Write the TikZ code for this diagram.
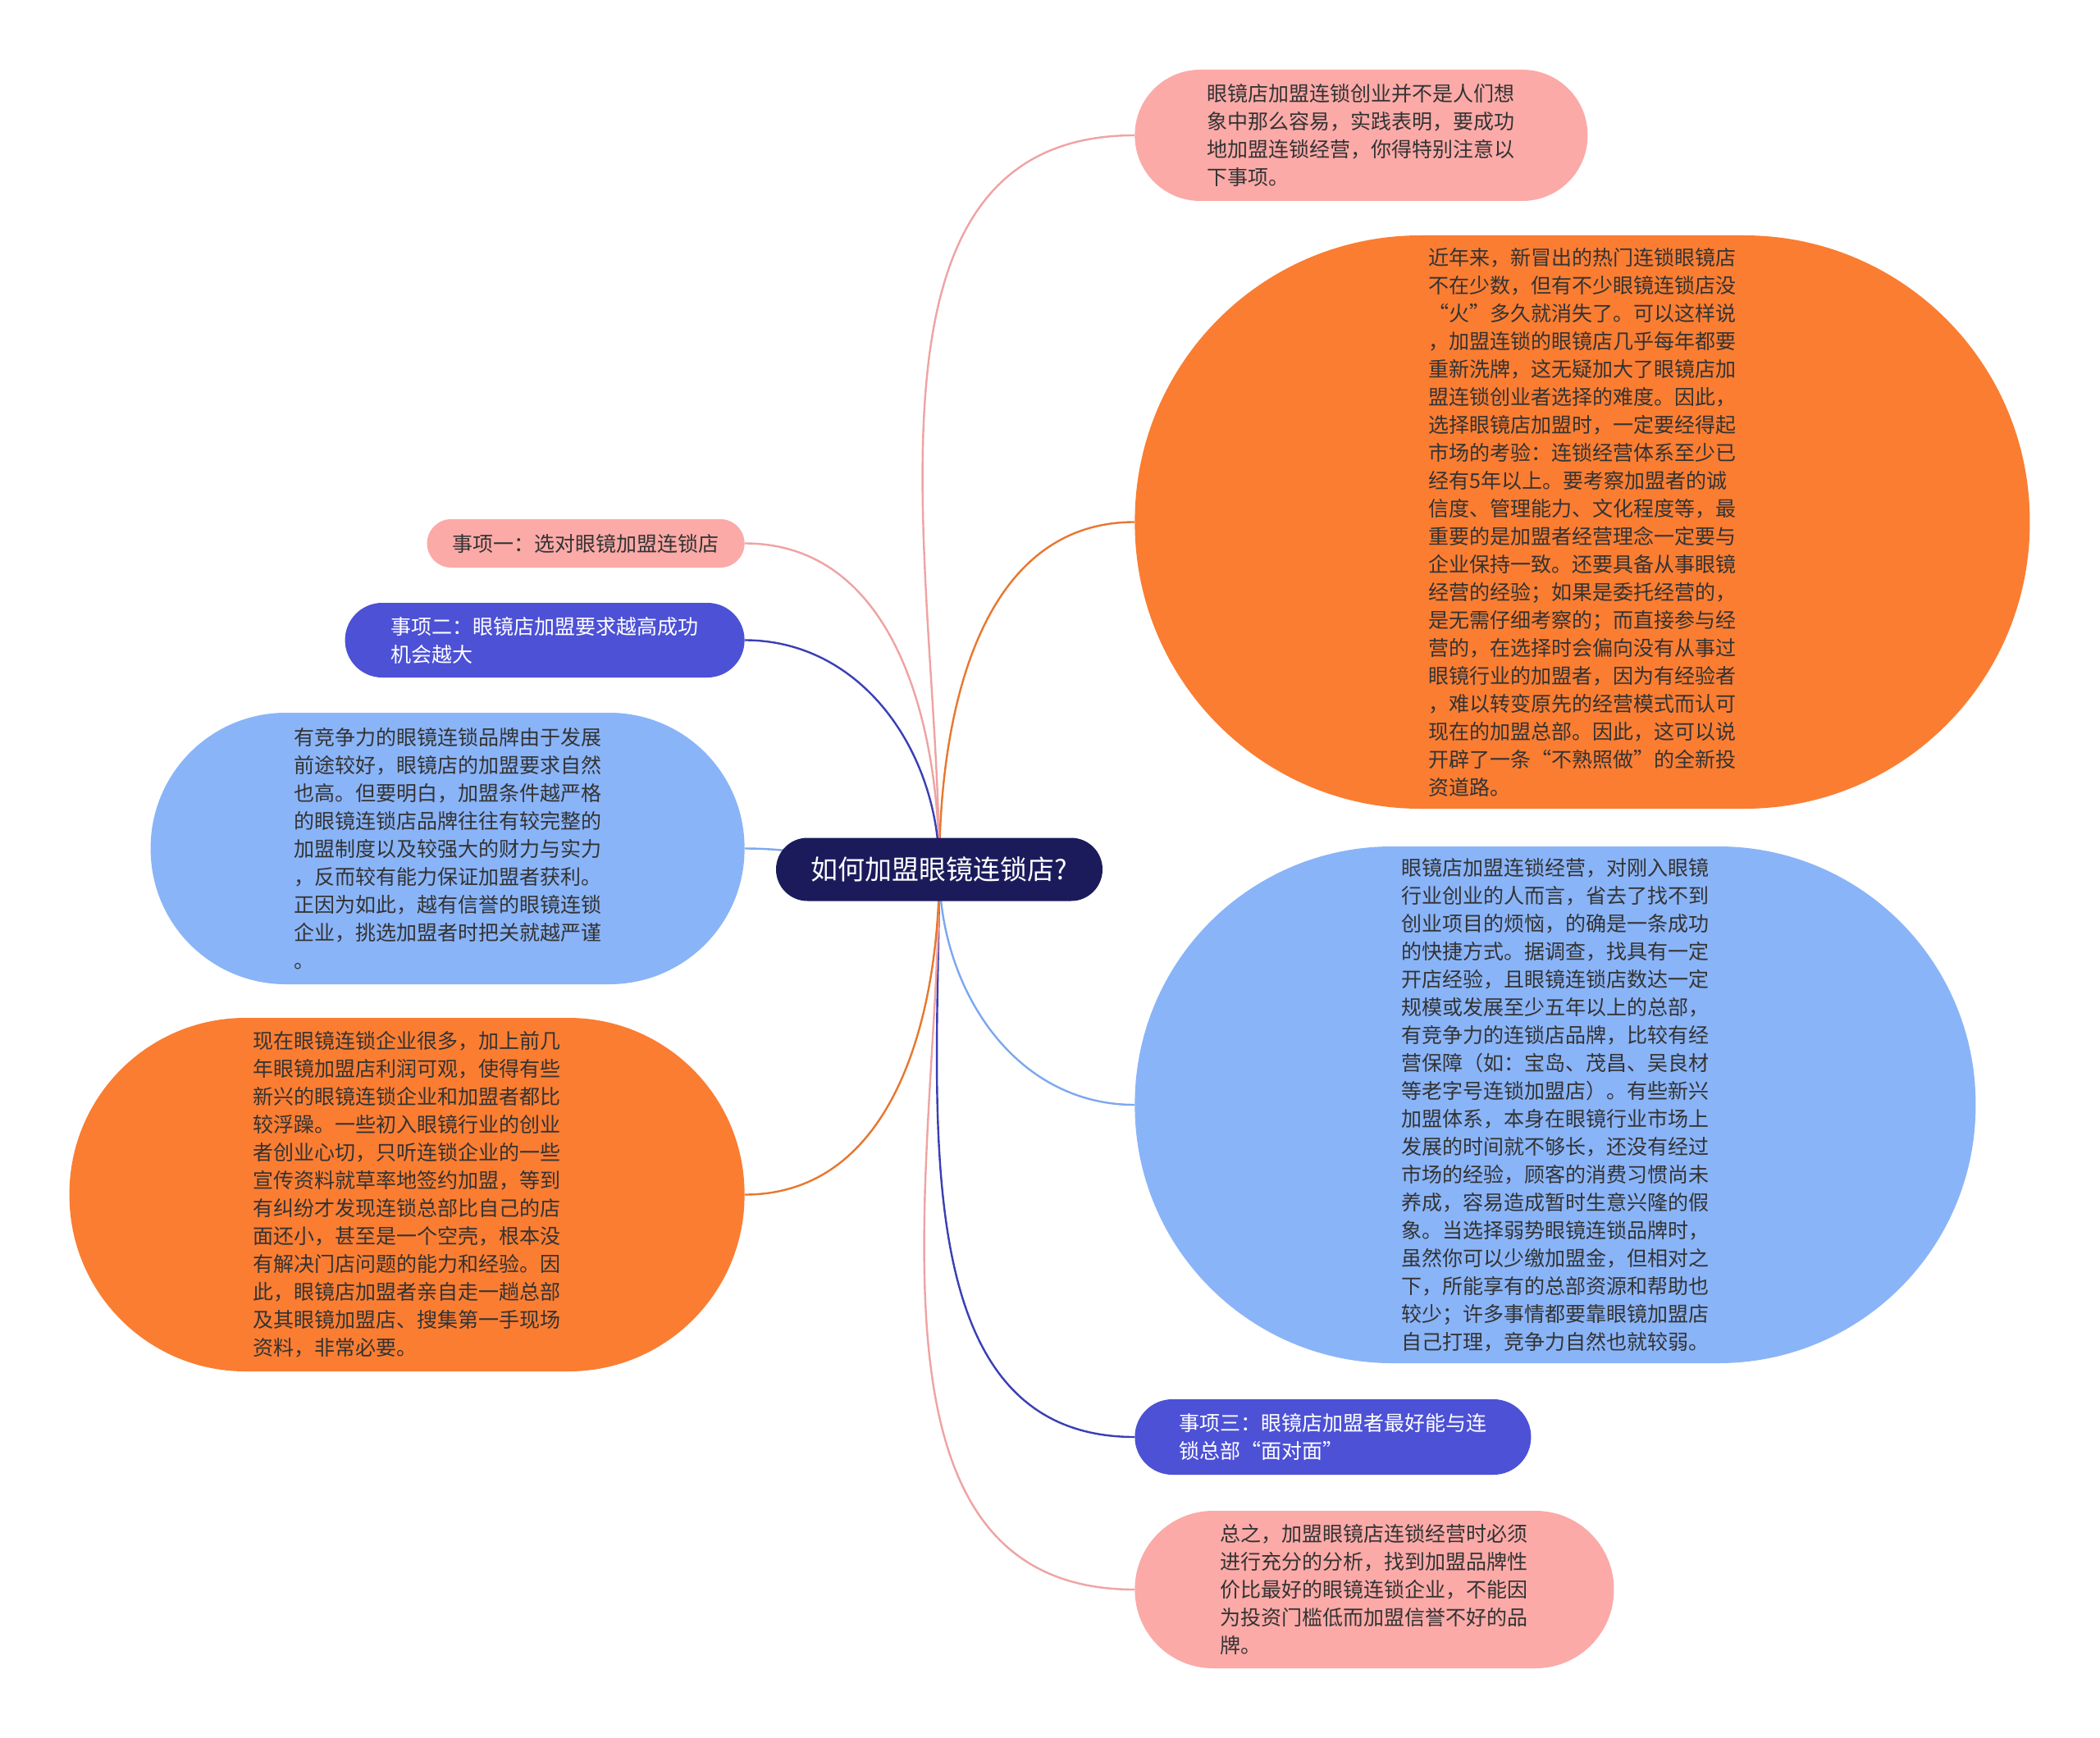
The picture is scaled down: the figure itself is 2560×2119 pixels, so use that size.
\documentclass[tikz,border=0pt]{standalone}
\usepackage{fontspec}
\newfontfamily\cjk{Noto Sans CJK SC}
\usetikzlibrary{backgrounds}
\definecolor{navy}{HTML}{1B1B5C}
\definecolor{pinkbox}{HTML}{FBAAA8}
\definecolor{orangebox}{HTML}{FA7D32}
\definecolor{bluebox}{HTML}{8AB4F8}
\definecolor{indigobox}{HTML}{4C51D6}
\definecolor{pinkln}{HTML}{EFA3A3}
\definecolor{orangeln}{HTML}{E8772F}
\definecolor{blueln}{HTML}{7DA8EE}
\definecolor{indigoln}{HTML}{3A3FB5}
\begin{document}
\begin{tikzpicture}[x=0.5pt, y=-0.5pt,
    every node/.style={font=\cjk\fontsize{12.5}{17}\selectfont, text=black!80, align=left, inner sep=0pt},
    pill/.style 2 args={minimum width=#1*0.5pt, minimum height=#2*0.5pt, rounded corners=#2*0.249pt},
    link/.style={line width=1.2pt}]
  \useasboundingbox (0,0) rectangle (2560,2119);

  % 中心主题
  \node[pill={398}{77}, fill=navy, text=white, font=\cjk\fontsize{16.5}{20}\selectfont] (c) at (1145,1060) {如何加盟眼镜连锁店?};

  % 右侧
  \node[pill={552}{160}, fill=pinkbox, anchor=west] (pA) at (1383,165) {眼镜店加盟连锁创业并不是人们想\\象中那么容易，实践表明，要成功\\地加盟连锁经营，你得特别注意以\\下事项。};
  \node[pill={1091}{699}, fill=orangebox, anchor=west] (oR) at (1383,636.5) {近年来，新冒出的热门连锁眼镜店\\不在少数，但有不少眼镜连锁店没\\“火”多久就消失了。可以这样说\\，加盟连锁的眼镜店几乎每年都要\\重新洗牌，这无疑加大了眼镜店加\\盟连锁创业者选择的难度。因此，\\选择眼镜店加盟时，一定要经得起\\市场的考验：连锁经营体系至少已\\经有5年以上。要考察加盟者的诚\\信度、管理能力、文化程度等，最\\重要的是加盟者经营理念一定要与\\企业保持一致。还要具备从事眼镜\\经营的经验；如果是委托经营的，\\是无需仔细考察的；而直接参与经\\营的，在选择时会偏向没有从事过\\眼镜行业的加盟者，因为有经验者\\，难以转变原先的经营模式而认可\\现在的加盟总部。因此，这可以说\\开辟了一条“不熟照做”的全新投\\资道路。};
  \node[pill={1025}{630}, fill=bluebox, anchor=west] (bR) at (1383,1347) {眼镜店加盟连锁经营，对刚入眼镜\\行业创业的人而言，省去了找不到\\创业项目的烦恼，的确是一条成功\\的快捷方式。据调查，找具有一定\\开店经验，且眼镜连锁店数达一定\\规模或发展至少五年以上的总部，\\有竞争力的连锁店品牌，比较有经\\营保障（如：宝岛、茂昌、吴良材\\等老字号连锁加盟店）。有些新兴\\加盟体系，本身在眼镜行业市场上\\发展的时间就不够长，还没有经过\\市场的经验，顾客的消费习惯尚未\\养成，容易造成暂时生意兴隆的假\\象。当选择弱势眼镜连锁品牌时，\\虽然你可以少缴加盟金，但相对之\\下，所能享有的总部资源和帮助也\\较少；许多事情都要靠眼镜加盟店\\自己打理，竞争力自然也就较弱。};
  \node[pill={483}{92}, fill=indigobox, text=white, anchor=west] (iR) at (1383,1752) {事项三：眼镜店加盟者最好能与连\\锁总部“面对面”};
  \node[pill={584}{192}, fill=pinkbox, anchor=west] (pB) at (1383,1938) {总之，加盟眼镜店连锁经营时必须\\进行充分的分析，找到加盟品牌性\\价比最好的眼镜连锁企业，不能因\\为投资门槛低而加盟信誉不好的品\\牌。};

  % 左侧
  \node[pill={387}{59}, fill=pinkbox, anchor=east] (pL) at (908,662.5) {事项一：选对眼镜加盟连锁店};
  \node[pill={487}{91}, fill=indigobox, text=white, anchor=east] (iL) at (908,780.5) {事项二：眼镜店加盟要求越高成功\\机会越大};
  \node[pill={724}{331}, fill=bluebox, anchor=east] (bL) at (908,1034.5) {有竞争力的眼镜连锁品牌由于发展\\前途较好，眼镜店的加盟要求自然\\也高。但要明白，加盟条件越严格\\的眼镜连锁店品牌往往有较完整的\\加盟制度以及较强大的财力与实力\\，反而较有能力保证加盟者获利。\\正因为如此，越有信誉的眼镜连锁\\企业，挑选加盟者时把关就越严谨\\。};
  \node[pill={823}{431}, fill=orangebox, anchor=east] (oL) at (908,1456.5) {现在眼镜连锁企业很多，加上前几\\年眼镜加盟店利润可观，使得有些\\新兴的眼镜连锁企业和加盟者都比\\较浮躁。一些初入眼镜行业的创业\\者创业心切，只听连锁企业的一些\\宣传资料就草率地签约加盟，等到\\有纠纷才发现连锁总部比自己的店\\面还小，甚至是一个空壳，根本没\\有解决门店问题的能力和经验。因\\此，眼镜店加盟者亲自走一趟总部\\及其眼镜加盟店、搜集第一手现场\\资料，非常必要。};

  % 连线
  \begin{pgfonlayer}{background}
    \fill[white] (0,0) rectangle (2560,2119);
    \draw[link, pinkln] (c.center) to[out=90, in=180] (pA.west);
    \draw[link, orangeln] (c.center) to[out=90, in=180] (oR.west);
    \draw[link, blueln] (c.center) to[out=-90, in=180] (bR.west);
    \draw[link, indigoln] (c.center) to[out=-90, in=180] (iR.west);
    \draw[link, pinkln] (c.center) to[out=-90, in=180] (pB.west);
    \draw[link, pinkln] (c.center) to[out=90, in=0] (pL.east);
    \draw[link, indigoln] (c.center) to[out=90, in=0] (iL.east);
    \draw[link, blueln] (c.center) to[out=180, in=0] (bL.east);
    \draw[link, orangeln] (c.center) to[out=-90, in=0] (oL.east);
  \end{pgfonlayer}
\end{tikzpicture}
\end{document}
